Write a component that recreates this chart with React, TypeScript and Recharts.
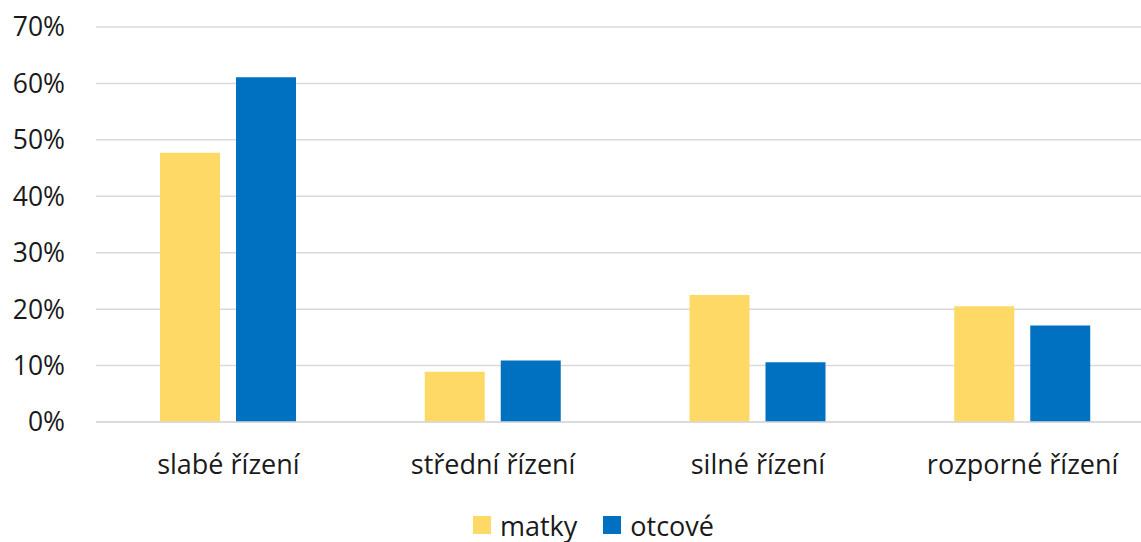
import React from 'react';
import { BarChart, Bar, XAxis, YAxis, CartesianGrid, Legend } from 'recharts';

const categories = ['slabé řízení', 'střední řízení', 'silné řízení', 'rozporné řízení'];
const matky = [47.7, 8.9, 22.5, 20.5];
const otcove = [61.1, 10.9, 10.6, 17.1];
const yTicks = [0, 10, 20, 30, 40, 50, 60, 70];

const COLORS = { matky: '#FFD966', otcove: '#0070C0' };
const FONT = '"Open Sans", "Noto Sans", sans-serif';

const data = categories.map((name, i) => ({ name, matky: matky[i], otcove: otcove[i] }));

const legendItems = [
  { label: 'matky', color: COLORS.matky },
  { label: 'otcové', color: COLORS.otcove },
];

const LegendContent = () => (
  <div style={{ height: 30, paddingLeft: 46, display: 'flex', justifyContent: 'center', alignItems: 'center', fontFamily: FONT, fontSize: 27, lineHeight: '27px', color: '#1a1a1a' }}>
    {legendItems.map((it, i) => (
      <div key={it.label} style={{ display: 'flex', alignItems: 'center', marginLeft: i ? 26 : 0 }}>
        <span style={{ width: 18, height: 18, background: it.color, display: 'inline-block', marginRight: 9 }} />
        <span>{it.label}</span>
      </div>
    ))}
  </div>
);

const App: React.FC = () => {
  return (
    <div style={{ position: 'absolute', left: 0, top: 0, width: 1141, height: 542, overflow: 'hidden', background: '#fff' }}>
      <BarChart
        width={1155}
        height={542}
        data={data}
        margin={{ top: 27, right: 0, bottom: 0, left: 0 }}
        barGap={16}
        barSize={60}
      >
        <CartesianGrid vertical={false} stroke="#d9d9d9" strokeWidth={1.5} />
        <XAxis
          dataKey="name"
          axisLine={{ stroke: '#d9d9d9', strokeWidth: 1.5 }}
          tickLine={false}
          tickSize={0}
          tickMargin={33}
          height={90}
          interval={0}
          tick={{ fill: '#1a1a1a', fontSize: 27, fontFamily: FONT }}
        />
        <YAxis
          domain={[0, 70]}
          ticks={yTicks}
          tickFormatter={(v: number) => `${v}%`}
          axisLine={false}
          tickLine={false}
          tickSize={0}
          tickMargin={31}
          width={96}
          tick={{ fill: '#1a1a1a', fontSize: 26.5, fontFamily: FONT }}
        />
        <Legend
          verticalAlign="bottom"
          height={30}
          wrapperStyle={{ top: 510, left: 0, width: 1141, height: 30 }}
          content={<LegendContent />}
        />
        <Bar dataKey="matky" fill={COLORS.matky} isAnimationActive={false} />
        <Bar dataKey="otcove" fill={COLORS.otcove} isAnimationActive={false} />
      </BarChart>
    </div>
  );
};

export default App;
